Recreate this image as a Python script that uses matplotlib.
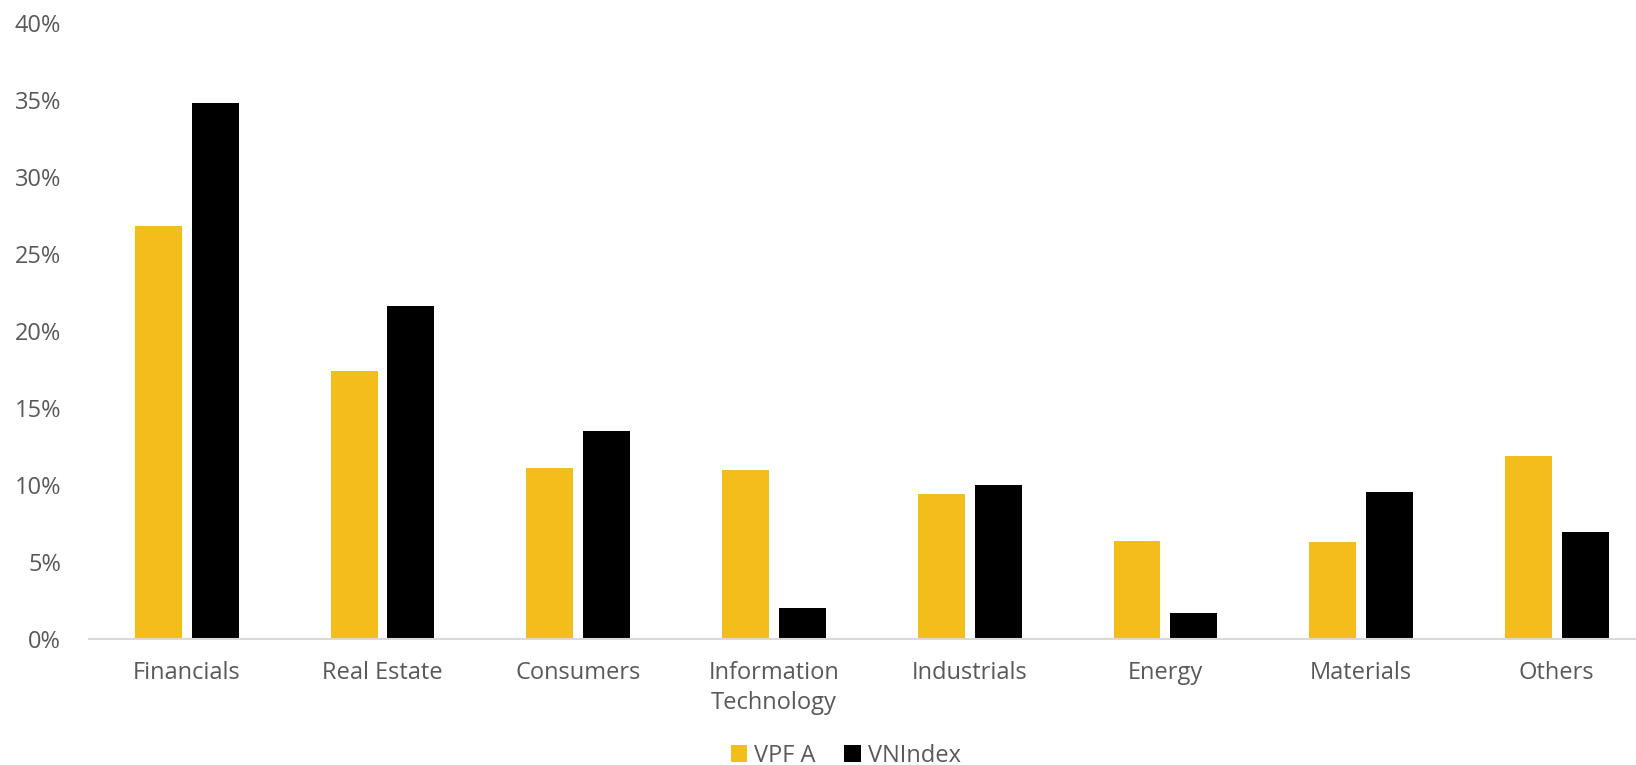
import matplotlib.pyplot as plt
import numpy as np
from matplotlib.ticker import PercentFormatter

plt.rcParams['font.family'] = ['Open Sans', 'DejaVu Sans']

# Données (en %)
sectors = ['Financials', 'Real Estate', 'Consumers', 'Information\nTechnology',
           'Industrials', 'Energy', 'Materials', 'Others']
vpf_a = [26.8, 17.4, 11.1, 11.0, 9.4, 6.35, 6.3, 11.9]
vnindex = [34.8, 21.6, 13.5, 2.0, 10.0, 1.7, 9.55, 6.95]

yellow = '#F3BD1B'
grey_text = '#595959'

fig = plt.figure(figsize=(16.36, 7.65), dpi=100)
ax = fig.add_axes([0.0544, 0.1647, 0.957, 0.8053])

x = np.arange(len(sectors))
w = 0.24
ax.bar(x - 0.145, vpf_a, w, color=yellow, label='VPF A')
ax.bar(x + 0.145, vnindex, w, color='black', label='VNIndex')

ax.set_xlim(-0.5, len(sectors) - 0.5)
ax.set_ylim(0, 40)
ax.set_yticks(range(0, 41, 5))
ax.yaxis.set_major_formatter(PercentFormatter(decimals=0))
ax.set_xticks(x)
ax.set_xticklabels(sectors, linespacing=1.3)

for s in ['top', 'right', 'left']:
    ax.spines[s].set_visible(False)
ax.spines['bottom'].set_color('#D9D9D9')
ax.spines['bottom'].set_linewidth(1.5)
ax.tick_params(axis='both', length=0, labelsize=17, labelcolor=grey_text)
ax.tick_params(axis='y', pad=20)
ax.tick_params(axis='x', pad=16)

# légende centrée sur la figure
leg = ax.legend(loc='center', bbox_to_anchor=(0.517, 0.012), bbox_transform=fig.transFigure,
                ncol=2, frameon=False, fontsize=17, labelcolor=grey_text,
                handlelength=0.7, handleheight=0.7, handletextpad=0.3, columnspacing=1.2)

fig.savefig('out.png', dpi=100)
